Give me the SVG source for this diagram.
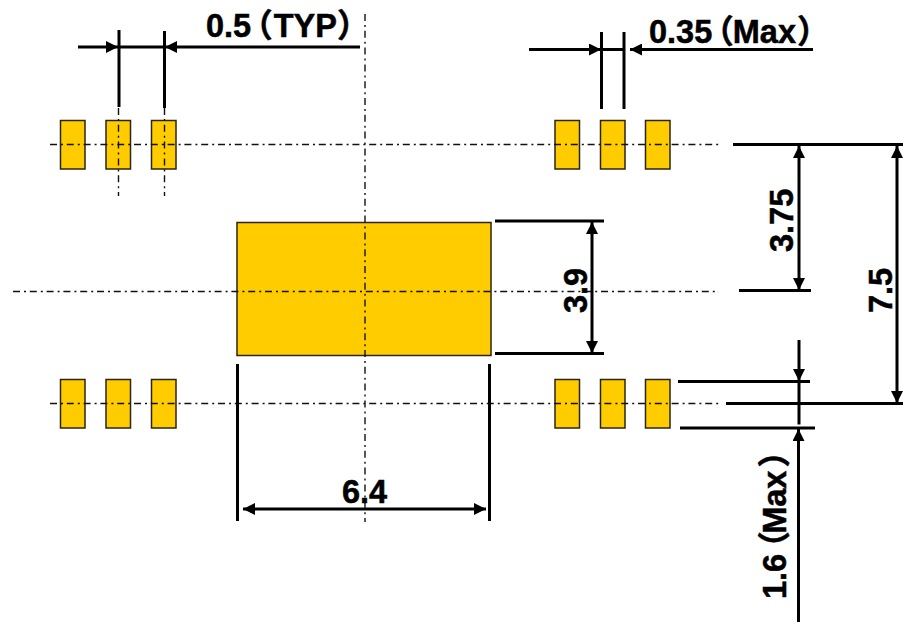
<svg xmlns="http://www.w3.org/2000/svg" width="903" height="622" viewBox="0 0 903 622">
<defs>
<style>
.pad{fill:#ffcc00;stroke:#2b2410;stroke-width:1.5}
.c{stroke:#111;stroke-width:1.4;stroke-dasharray:7 4 2 3.8;fill:none}
.d{stroke:#000;stroke-width:3;fill:none}
.a{fill:#000;stroke:none}
.t{font-family:"Liberation Sans","Noto Sans CJK JP",sans-serif;font-weight:bold;font-size:32.500px;fill:#000;stroke:#000;stroke-width:.5}
</style>
<marker id="arr" viewBox="0 0 12 12" markerUnits="userSpaceOnUse" markerWidth="12" markerHeight="12" refX="12" refY="6" orient="auto-start-reverse"><path class="a" d="M0 0L12 6L0 12Z"/></marker>
</defs>
<rect width="903" height="622" fill="#fff"/>
<g id="pads-top-left"><rect class="pad" x="60.5" y="120.5" width="24.5" height="48.5"/><rect class="pad" x="106" y="120.5" width="24.5" height="48.5"/><rect class="pad" x="151.5" y="120.5" width="24.5" height="48.5"/></g>
<g id="pads-top-right"><rect class="pad" x="555" y="120.5" width="24.5" height="48.5"/><rect class="pad" x="600.5" y="120.5" width="24.5" height="48.5"/><rect class="pad" x="645.5" y="120.5" width="24.5" height="48.5"/></g>
<g id="pads-bottom-left"><rect class="pad" x="60.5" y="379.5" width="24.5" height="48.5"/><rect class="pad" x="106" y="379.5" width="24.5" height="48.5"/><rect class="pad" x="151.5" y="379.5" width="24.5" height="48.5"/></g>
<g id="pads-bottom-right"><rect class="pad" x="555" y="379.5" width="24.5" height="48.5"/><rect class="pad" x="600.5" y="379.5" width="24.5" height="48.5"/><rect class="pad" x="645.5" y="379.5" width="24.5" height="48.5"/></g>
<g id="body"><rect class="pad" x="237" y="222.5" width="254" height="133"/></g>
<g id="connectors">
<path class="c" d="M50 144.5H720M13 291.5H715M50 403.5H720M365 14V522M118.500 108V196M164.500 108V196"/>
<path class="d" d="M78 47H118" marker-end="url(#arr)"/>
<path class="d" d="M360 47H165" marker-end="url(#arr)"/>
<path class="d" d="M119 107V30M164.500 108V31M119 47H164"/>
<path class="d" d="M529 49.500H601" marker-end="url(#arr)"/>
<path class="d" d="M813 49.500H630" marker-end="url(#arr)"/>
<path class="d" d="M601.500 109V32M624 109V32M601 49.500H624"/>
<path class="d" d="M733 144.500H903M739 290.500H811M726 403.500H903M495 221H604M495 353.500H604M678 381.500H810M680 428H815M237.500 364V521M489.500 364V521"/>
<path class="d" d="M799 146V290" marker-start="url(#arr)" marker-end="url(#arr)"/>
<path class="d" d="M897 146V403" marker-start="url(#arr)" marker-end="url(#arr)"/>
<path class="d" d="M592 222V353" marker-start="url(#arr)" marker-end="url(#arr)"/>
<path class="d" d="M243 509H486" marker-start="url(#arr)" marker-end="url(#arr)"/>
<path class="d" d="M799 340V381" marker-end="url(#arr)"/>
<path class="d" d="M799 381V424.500"/>
<path class="d" d="M798.500 622V429" marker-end="url(#arr)"/>
</g>
<g id="labels">
<text class="t" x="206" y="37" dx="0 0 0 -11 1 0 0 0">0.5（TYP）</text>
<text class="t" x="649" y="43" dx="0 0 0 0 -11 -1 0 0 1">0.35（Max）</text>
<text class="t" x="342" y="503">6.4</text>
<text class="t" transform="translate(587 313) rotate(-90)">3.9</text>
<text class="t" transform="translate(793 252) rotate(-90)">3.75</text>
<text class="t" transform="translate(892 313) rotate(-90)">7.5</text>
<text class="t" transform="translate(786 599) rotate(-90)" dx="0 0 0 -10 -2.500 0 0 3">1.6（Max）</text>
</g>
</svg>
